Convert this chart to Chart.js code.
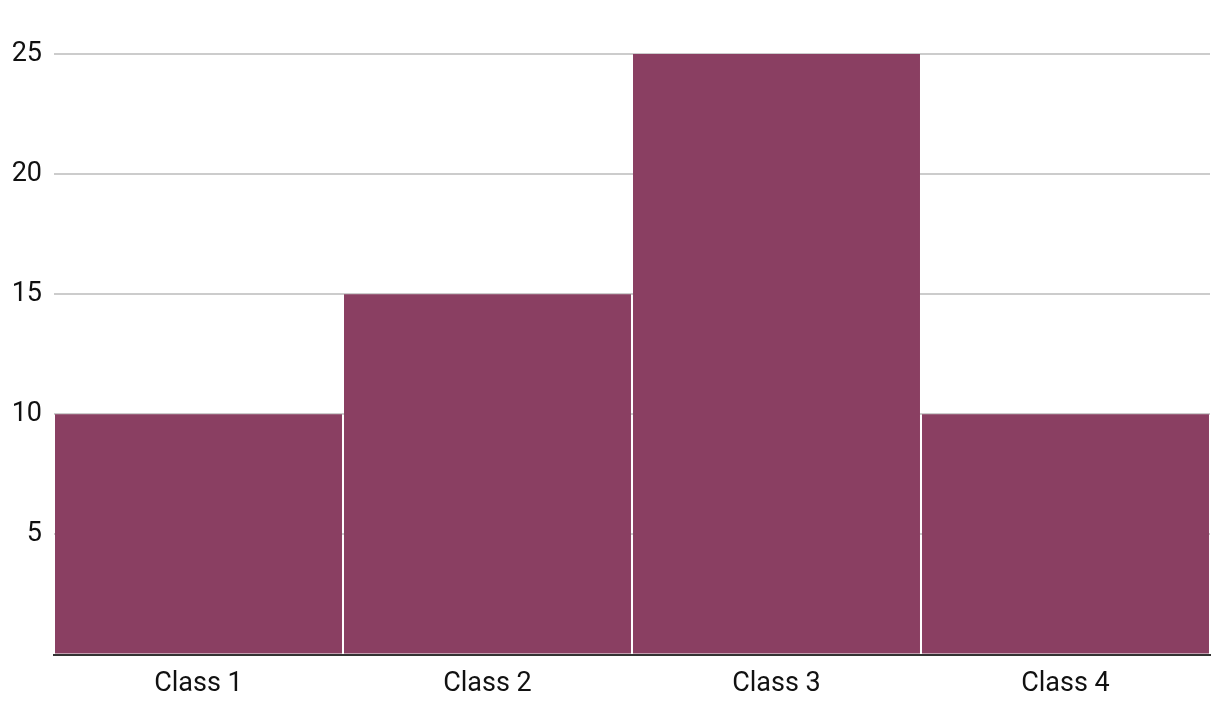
<!DOCTYPE html>
<html>
<head>
<meta charset="utf-8">
<script src="https://cdn.jsdelivr.net/npm/chart.js@4/dist/chart.umd.min.js"></script>
<style>
  html,body{margin:0;padding:0;background:#fff;}
  #wrap{width:1220px;height:714px;position:relative;}
</style>
</head>
<body>
<div id="wrap"><canvas id="c"></canvas></div>
<script>
// bar chart: one series over four classes
var categories=['Class 1','Class 2','Class 3','Class 4'];
var values=[10,15,25,10];
var yTicks=[5,10,15,20,25];

(function(){
  var ctx=document.getElementById('c').getContext('2d');
  var font="Roboto, 'Open Sans', sans-serif";
  new Chart(ctx,{
    type:'bar',
    data:{labels:categories,datasets:[{
      data:values,
      backgroundColor:'#8a3f62',
      borderWidth:0,
      barPercentage:0.993,
      categoryPercentage:1
    }]},
    options:{
      responsive:true,maintainAspectRatio:false,animation:false,
      layout:{padding:{top:54,right:10,bottom:9,left:0}},
      plugins:{legend:{display:false},tooltip:{enabled:false}},
      scales:{
        x:{
          grid:{display:false},
          border:{display:true,color:'#333',width:2},
          ticks:{color:'#111',font:{family:font,size:27},padding:5}
        },
        y:{
          min:0,max:25,
          afterBuildTicks:function(s){s.ticks=[0].concat(yTicks).map(function(v){return {value:v};});},
          afterFit:function(s){s.width=54;},
          grid:{color:function(c){return c.tick&&c.tick.value===0?'rgba(0,0,0,0)':'#cccccc';},lineWidth:2,drawTicks:false},
          border:{display:false},
          ticks:{color:'#111',font:{family:font,size:27},padding:12,
            callback:function(v){return v===0?'':v;}}
        }
      }
    }
  });
})();
</script>
</body>
</html>
